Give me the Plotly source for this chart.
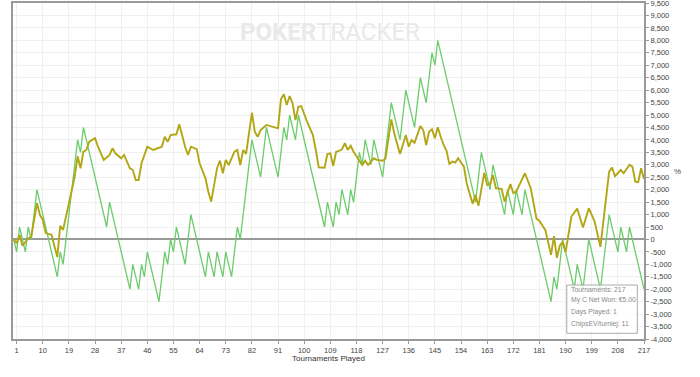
import plotly.graph_objects as go

# ---- data ----
green_t = [0, 1, 2, 4, 5, 6, 8, 15, 16, 17, 22, 23, 24, 32, 33, 40, 41, 43, 44, 45, 46, 50, 52, 53, 54,
           55, 56, 59, 61, 66, 67, 69, 70, 72, 73, 75, 77, 78, 82, 85, 87, 91, 93, 94, 95, 97, 98, 107,
           108, 110, 111, 112, 113, 115, 116, 117, 119, 120, 121, 123, 124, 127, 130, 133, 135, 138,
           140, 142, 144, 145, 146, 159, 161, 164, 165, 169, 170, 172, 173, 175, 176, 185, 186, 187,
           189, 193, 194, 196, 198, 202, 205, 208, 209, 211, 212, 217]
green_v = [0, -500, 500, -500, 500, 0, 2000, -1500, -500, -1000, 4000, 3500, 4500, 500, 1500, -2000,
           -1000, -2000, -1000, -1500, -500, -2500, -500, -1000, 0, -500, 500, -1000, 1000, -1500, -500,
           -1500, -500, -1500, -500, -1500, 500, 0, 4000, 2500, 4500, 2500, 4500, 4000, 5000, 4000, 5000,
           500, 1500, 500, 1500, 1000, 2000, 1000, 2000, 1500, 3500, 3000, 4000, 3000, 4000, 2500, 5500,
           4000, 6000, 4500, 6500, 5500, 7500, 7000, 8000, 1500, 3500, 2000, 3000, 1000, 2000, 1000,
           2000, 1000, 2000, -2500, -1500, -2000, 0, -2000, -1000, -2000, 0, -2000, 1000, -500, 500,
           -500, 500, -2000]

yellow_t = [0, 1, 2, 3, 5, 6, 8, 9, 10, 11, 13, 14, 15, 16, 17, 18, 19, 21, 22, 23, 24, 25, 26, 28, 29,
            31, 33, 34, 35, 37, 38, 40, 41, 42, 43, 44, 46, 48, 51, 52, 53, 54, 56, 57, 59, 60, 61, 63,
            64, 65, 66, 67, 68, 69, 70, 71, 72, 73, 74, 75, 76, 77, 78, 79, 80, 82, 83, 84, 85, 87, 89,
            91, 92, 93, 94, 95, 96, 97, 98, 99, 101, 103, 104, 105, 107, 108, 109, 110, 111, 112, 113,
            114, 115, 116, 117, 119, 120, 121, 122, 124, 125, 127, 128, 130, 131, 133, 134, 135, 136,
            137, 138, 139, 140, 141, 142, 143, 144, 145, 146, 147, 148, 149, 150, 151, 152, 153, 155,
            156, 158, 159, 160, 162, 163, 164, 165, 166, 168, 169, 171, 172, 173, 176, 178, 180, 181,
            183, 184, 185, 186, 187, 188, 189, 190, 192, 194, 196, 198, 200, 202, 205, 206, 207, 209,
            210, 212, 213, 214, 215, 216, 217]
yellow_v = [0, -150, 185, -255, 50, 90, 1455, 990, 790, 255, 185, -215, -710, 545, 385, 920, 1455, 2525,
            3340, 2860, 3525, 3595, 3925, 4065, 3725, 3195, 3395, 3660, 3460, 3260, 3395, 2860, 2790,
            2390, 2390, 3060, 3725, 3595, 3725, 4125, 3925, 4195, 4225, 4625, 3725, 3395, 3725, 3630,
            3060, 2725, 2460, 1920, 1520, 2190, 2860, 3165, 2660, 3195, 2990, 3260, 3525, 3595, 2990,
            3595, 3435, 5090, 4330, 4125, 4395, 4600, 4530, 4465, 5630, 5830, 5400, 5760, 5465, 4795,
            5330, 5360, 4730, 4195, 3595, 2900, 2885, 3435, 3460, 2950, 3525, 3555, 3620, 3865, 3595,
            3765, 3525, 3195, 2990, 3165, 2990, 3260, 3195, 3165, 3250, 4825, 4265, 3435, 3795, 4195,
            3725, 3995, 3885, 4265, 4555, 4395, 3795, 4330, 4425, 4065, 4505, 4125, 3795, 3565, 3035,
            3125, 3085, 3260, 2925, 2230, 1430, 1790, 1350, 2685, 2190, 2230, 2590, 2060, 2020, 1520,
            2230, 1860, 1920, 2660, 2060, 830, 740, 385, -150, -620, 130, -740, -250, -100, -520, 920,
            1240, 480, 1255, 720, -300, 2725, 2890, 2540, 2790, 2660, 3000, 2925, 2320, 2300, 2860, 2430]

x_ticks = list(range(1, 218, 9))
y_ticks = list(range(-4000, 9501, 500))
y_ticktext = [f"{v:,}" for v in y_ticks]

tooltip_lines = ["Tournaments: 217", "My C Net Won: €5.00", "Days Played: 1", "ChipsEV/turniej: 11"]

FONT = "Liberation Sans, Arial, sans-serif"

fig = go.Figure()
fig.add_trace(go.Scatter(x=green_t, y=green_v, mode="lines",
                         line=dict(color="#6ccc6c", width=1.3), hoverinfo="skip"))
fig.add_trace(go.Scatter(x=yellow_t, y=yellow_v, mode="lines",
                         line=dict(color="#b3a614", width=1.9), hoverinfo="skip"))

fig.update_layout(
    width=700, height=377,
    margin=dict(l=13, r=56, t=3, b=38, autoexpand=False),
    paper_bgcolor="white", plot_bgcolor="white",
    showlegend=False,
    font=dict(family=FONT, size=8, color="#444"),
    xaxis=dict(range=[-0.25, 217], tickvals=x_ticks, ticks="outside", ticklen=3,
               tickcolor="#999", showgrid=True, gridcolor="#f0f0f0", gridwidth=1,
               showline=True, linecolor="#999", linewidth=1.5, mirror=True,
               zeroline=False, automargin=False, ticklabeloverflow="allow",
               tickfont=dict(family=FONT, size=7.5, color="#444")),
    yaxis=dict(range=[-4000, 9500], side="right", tickvals=y_ticks, ticktext=y_ticktext,
               ticks="outside", ticklen=3, tickcolor="#999",
               showgrid=True, gridcolor="#f0f0f0", gridwidth=1,
               showline=True, linecolor="#999", linewidth=2, mirror=True,
               zeroline=True, zerolinecolor="#999", zerolinewidth=2, automargin=False,
               ticklabeloverflow="allow",
               tickfont=dict(family=FONT, size=7.5, color="#444")),
)

# watermark
fig.add_annotation(xref="paper", yref="paper", x=0.503, y=0.9146, xanchor="center", yanchor="middle",
                   text="<b>POKER</b>TRACKER", showarrow=False,
                   font=dict(family="Roboto, sans-serif", size=24, color="#e9e9e9"))

# axis titles
fig.add_annotation(xref="paper", yref="paper", x=0.5, y=-0.057, xanchor="center", yanchor="middle",
                   text="Tournaments Played", showarrow=False,
                   font=dict(family=FONT, size=8, color="#333"))
fig.add_annotation(xref="paper", yref="paper", x=1.0527, y=0.498, xanchor="center", yanchor="middle",
                   text="%", showarrow=False, font=dict(family=FONT, size=8, color="#444"))

# tooltip box
fig.add_shape(type="rect", xref="paper", yref="paper", x0=0.8776, x1=0.9894, y0=0.017, y1=0.1607,
              line=dict(color="#aaaaaa", width=1), fillcolor="rgba(255,255,255,0.8)", layer="above")
tip_y = [0.1473, 0.1146, 0.0800, 0.0452]
for txt, yy in zip(tooltip_lines, tip_y):
    fig.add_annotation(xref="paper", yref="paper", x=0.881, y=yy, xanchor="left", yanchor="middle",
                       text=txt, showarrow=False, font=dict(family=FONT, size=6.8, color="#8a8a8a"))

fig.write_html("out.html", config={"displayModeBar": False},
               post_script="document.body.style.margin='0px';")
